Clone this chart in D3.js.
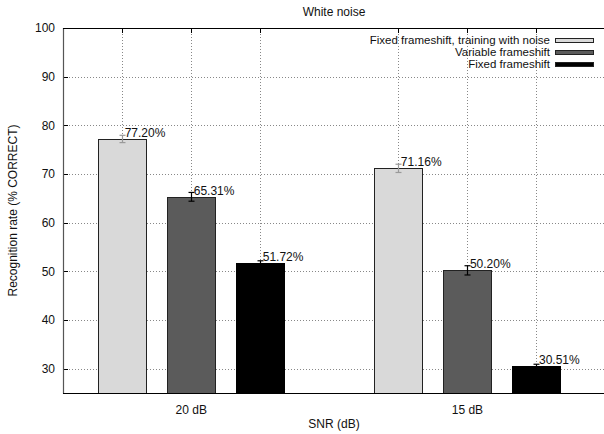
<!DOCTYPE html>
<html>
<head>
<meta charset="utf-8">
<script src="https://cdn.jsdelivr.net/npm/d3@7"></script>
<style>
  html, body { margin: 0; padding: 0; background: #fff; }
  svg { display: block; font-family: "Liberation Sans", Arial, Helvetica, sans-serif; }
</style>
</head>
<body>
<svg id="chart" width="604" height="434"></svg>
<script>
// Recognition rate per SNR condition, one list per frameshift setup
const categories = ["20 dB", "15 dB"];
const seriesNames = [
  "Fixed frameshift, training with noise",
  "Variable frameshift",
  "Fixed frameshift"
];
const fixedNoiseTrained = [77.20, 71.16];
const variableShift = [65.31, 50.20];
const fixedShift = [51.72, 30.51];
// Half-width of the confidence interval drawn on each bar
const fixedNoiseTrainedErr = [0.75, 0.85];
const variableShiftErr = [0.9, 0.95];
const fixedShiftErr = [0.45, 0.4];
const yTicks = [30, 40, 50, 60, 70, 80, 90, 100];

(function () {
const seriesValues = [fixedNoiseTrained, variableShift, fixedShift];
const seriesErrors = [fixedNoiseTrainedErr, variableShiftErr, fixedShiftErr];
const fills = ["#d9d9d9", "#5b5b5b", "#000000"];
const errColors = ["#9a9a9a", "#000000", "#000000"];

const svg = d3.select("#chart");
const pl = 63, pr = 605, pt = 28, pb = 393;

// Bars sit at slot = group*4 + series; one empty slot between groups
const x = d3.scaleLinear().domain([-0.85, 7.0]).range([pl, pr]);
const y = d3.scaleLinear().domain([25, 100]).range([pb, pt]);
const barW = x(0.7) - x(0);

const bars = [];
categories.forEach((c, g) => {
  seriesValues.forEach((vals, s) => {
    bars.push({ g, s, slot: g * 4 + s, value: vals[g], err: seriesErrors[s][g] });
  });
});

const font = 12;

// grid
const grid = svg.append("g");
yTicks.filter(t => t < 100).forEach(t => {
  grid.append("line")
    .attr("x1", pl).attr("x2", pr)
    .attr("y1", Math.round(y(t)) + 0.5).attr("y2", Math.round(y(t)) + 0.5)
    .attr("stroke", "#888").attr("stroke-width", 1).attr("stroke-dasharray", "1,2");
});
bars.forEach(b => {
  const xx = Math.round(x(b.slot)) + 0.5;
  grid.append("line")
    .attr("x1", xx).attr("x2", xx)
    .attr("y1", pt).attr("y2", pb)
    .attr("stroke", "#888").attr("stroke-width", 1).attr("stroke-dasharray", "1,2");
  // inward tick marks on the top border
  grid.append("line")
    .attr("x1", xx).attr("x2", xx)
    .attr("y1", pt).attr("y2", pt + 5)
    .attr("stroke", "#000").attr("stroke-width", 1);
});
// inward tick marks on the left axis
yTicks.forEach(t => {
  grid.append("line")
    .attr("x1", pl).attr("x2", pl + 5)
    .attr("y1", Math.round(y(t)) + 0.5).attr("y2", Math.round(y(t)) + 0.5)
    .attr("stroke", "#000").attr("stroke-width", 1);
});

// bars
svg.append("g").selectAll("rect").data(bars).join("rect")
  .attr("x", d => Math.round(x(d.slot) - barW / 2) + 0.5)
  .attr("y", d => Math.round(y(d.value)) + 0.5)
  .attr("width", Math.round(barW))
  .attr("height", d => pb - Math.round(y(d.value)))
  .attr("fill", d => fills[d.s])
  .attr("stroke", d => d.s === 2 ? "#000" : "#222")
  .attr("stroke-width", 1);

// error bars
const eg = svg.append("g");
bars.forEach(b => {
  const cx = Math.round(x(b.slot)) + 0.5;
  const y1 = y(b.value + b.err), y2 = y(b.value - b.err);
  const col = errColors[b.s];
  eg.append("line").attr("x1", cx).attr("x2", cx).attr("y1", y1).attr("y2", y2)
    .attr("stroke", col).attr("stroke-width", 1.2);
  [y1, y2].forEach(yy => {
    eg.append("line").attr("x1", cx - 3).attr("x2", cx + 3).attr("y1", yy).attr("y2", yy)
      .attr("stroke", col).attr("stroke-width", 1.2);
  });
});

// value labels
svg.append("g").selectAll("text").data(bars).join("text")
  .attr("x", d => x(d.slot) + 3)
  .attr("y", d => y(d.value) - 2)
  .attr("font-size", font)
  .attr("fill", "#111")
  .text(d => d.value.toFixed(2) + "%");

// border: left, top, bottom
svg.append("line").attr("x1", pl + 0.5).attr("x2", pl + 0.5).attr("y1", pt).attr("y2", pb + 0.5)
  .attr("stroke", "#555").attr("stroke-width", 1.2);
svg.append("line").attr("x1", pl).attr("x2", pr).attr("y1", pt + 0.5).attr("y2", pt + 0.5)
  .attr("stroke", "#000").attr("stroke-width", 1.2);
svg.append("line").attr("x1", pl).attr("x2", pr).attr("y1", pb + 0.5).attr("y2", pb + 0.5)
  .attr("stroke", "#000").attr("stroke-width", 1.2);

// y axis labels
const yAxis = d3.axisLeft(y).tickValues(yTicks).tickSize(0).tickPadding(8);
const ya = svg.append("g").attr("transform", `translate(${pl},0)`).call(yAxis);
ya.select(".domain").remove();
ya.selectAll("text").attr("font-size", font).attr("font-family", null).attr("fill", "#111");

// x axis labels at group centres
const xAxis = d3.axisBottom(x).tickValues(categories.map((c, g) => g * 4 + 1))
  .tickFormat((d, i) => categories[i]).tickSize(0).tickPadding(12);
const xa = svg.append("g").attr("transform", `translate(0,${pb})`).call(xAxis);
xa.select(".domain").remove();
xa.selectAll("text").attr("font-size", font).attr("font-family", null).attr("fill", "#111");

// titles
const midX = (pl + pr) / 2;
svg.append("text").attr("x", midX).attr("y", 16).attr("text-anchor", "middle")
  .attr("font-size", font).attr("fill", "#111").text("White noise");
svg.append("text").attr("x", midX).attr("y", 428).attr("text-anchor", "middle")
  .attr("font-size", font).attr("fill", "#111").text("SNR (dB)");
svg.append("text")
  .attr("transform", `translate(17,${(pt + pb) / 2}) rotate(-90)`)
  .attr("text-anchor", "middle").attr("font-size", font).attr("fill", "#111")
  .text("Recognition rate (% CORRECT)");

// legend
const lg = svg.append("g");
seriesNames.forEach((name, i) => {
  const ly = 40 + i * 12;
  lg.append("text").attr("x", 550).attr("y", ly + 4).attr("text-anchor", "end")
    .attr("font-size", 11.5).attr("fill", "#111").text(name);
  lg.append("rect").attr("x", 555.5).attr("y", Math.round(ly - 2) + 0.5)
    .attr("width", 38).attr("height", 4)
    .attr("fill", fills[i]).attr("stroke", "#222").attr("stroke-width", 1);
});
})();
</script>
</body>
</html>
